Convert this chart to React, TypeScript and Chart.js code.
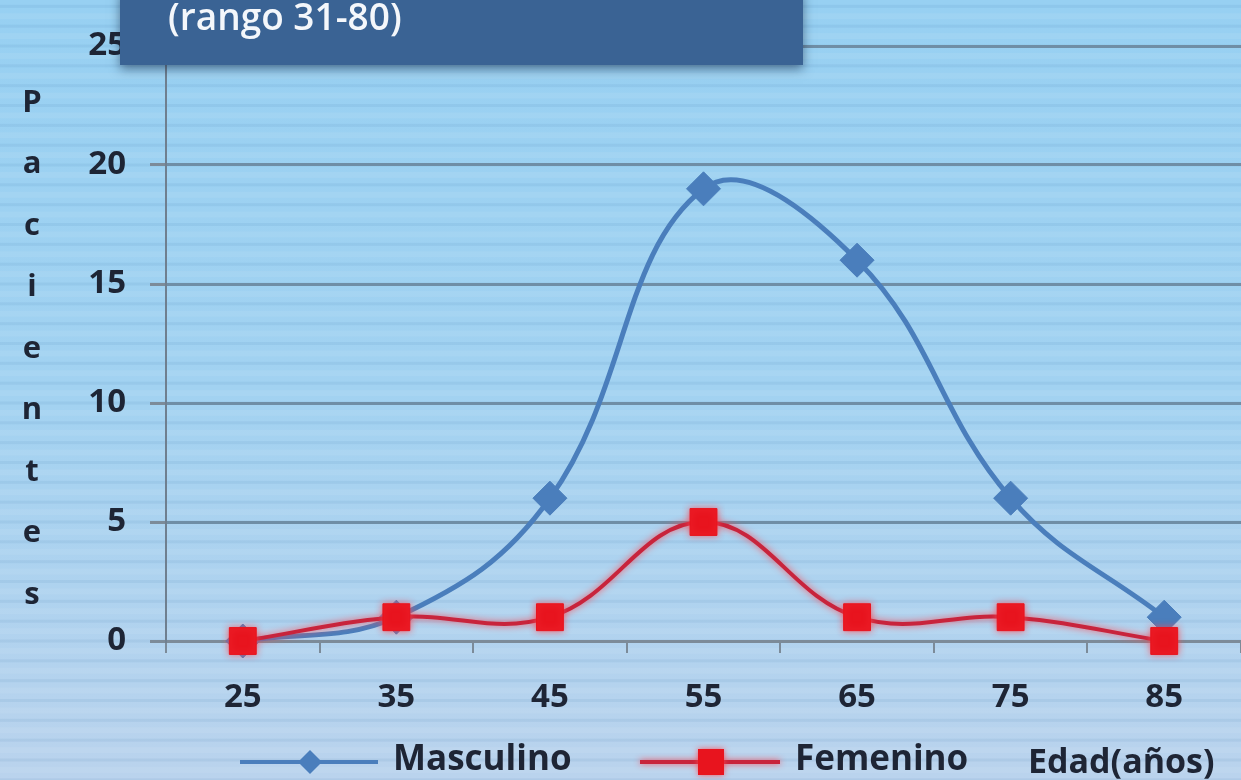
import { useEffect, useRef } from 'react';
import { Chart, registerables } from 'chart.js';

Chart.register(...registerables);

const categories = ['25', '35', '45', '55', '65', '75', '85'];
const masculino = [0, 1, 6, 19, 16, 6, 1];
const femenino = [0, 1, 1, 5, 1, 1, 0];
const yTickValues = [0, 5, 10, 15, 20, 25];
const seriesNames = ['Masculino', 'Femenino'];
const boxText = '(rango 31-80)';
const yTitleLetters = ['P', 'a', 'c', 'i', 'e', 'n', 't', 'e', 's'];
const xTitle = 'Edad(años)';

const BLUE = '#4a7ebc';
const RED_LINE = '#c8243c';
const RED_MARK = '#e8141e';
const TEXT = '#1e2535';
const FONT = '"Open Sans", "DejaVu Sans", sans-serif';

function drawDiamond(ctx: CanvasRenderingContext2D, x: number, y: number, r: number, color: string) {
  ctx.beginPath();
  ctx.moveTo(x, y - r);
  ctx.lineTo(x + r, y);
  ctx.lineTo(x, y + r);
  ctx.lineTo(x - r, y);
  ctx.closePath();
  ctx.fillStyle = color;
  ctx.fill();
}

const decorPlugin = {
  id: 'decor',
  beforeDraw(chart: any) {
    const ctx = chart.ctx as CanvasRenderingContext2D;
    const w = chart.width;
    const h = chart.height;
    ctx.save();
    const g = ctx.createLinearGradient(0, 0, 0, h);
    g.addColorStop(0, '#97d0f2');
    g.addColorStop(0.5, '#a2d2f1');
    g.addColorStop(1, '#bad3ed');
    ctx.fillStyle = g;
    ctx.fillRect(0, 0, w, h);
    const ys = chart.scales.y;
    const p0 = ys.getPixelForValue(0);
    const step = (p0 - ys.getPixelForValue(5)) / 6;
    for (let k = -10; k < 60; k++) {
      const y = p0 - k * step;
      if (y < -5 || y > h + 5) continue;
      ctx.fillStyle = 'rgba(60,115,165,0.09)';
      ctx.fillRect(0, y - 1.5, w, 3);
      ctx.fillStyle = 'rgba(255,255,255,0.07)';
      ctx.fillRect(0, y + step / 2 - 3, w, 6);
    }
    ctx.restore();
  },
  beforeDatasetDraw(chart: any, args: any) {
    if (args.index === 1) {
      const ctx = chart.ctx as CanvasRenderingContext2D;
      ctx.save();
      ctx.shadowColor = 'rgba(255,70,80,0.9)';
      ctx.shadowBlur = 7;
    }
  },
  afterDatasetDraw(chart: any, args: any) {
    if (args.index === 1) {
      chart.ctx.restore();
    }
  },
  afterDraw(chart: any) {
    const ctx = chart.ctx as CanvasRenderingContext2D;
    ctx.save();
    // title box
    ctx.shadowColor = 'rgba(20,40,70,0.55)';
    ctx.shadowBlur = 10;
    ctx.shadowOffsetY = 4;
    ctx.fillStyle = '#3a6394';
    ctx.fillRect(120, -10, 683, 75);
    ctx.shadowColor = 'transparent';
    ctx.shadowBlur = 0;
    ctx.shadowOffsetY = 0;
    ctx.fillStyle = '#f4f7fb';
    ctx.font = `600 37px ${FONT}`;
    ctx.textAlign = 'left';
    ctx.textBaseline = 'middle';
    ctx.fillText(boxText, 168, 19);

    // vertical y title
    ctx.fillStyle = TEXT;
    ctx.font = `bold 31px ${FONT}`;
    ctx.textAlign = 'center';
    ctx.textBaseline = 'middle';
    yTitleLetters.forEach((ch, i) => {
      ctx.fillText(ch, 32, 103 + i * 61.5);
    });

    // legend
    const ly = 762;
    ctx.lineWidth = 4;
    ctx.strokeStyle = BLUE;
    ctx.beginPath();
    ctx.moveTo(240, ly);
    ctx.lineTo(378, ly);
    ctx.stroke();
    drawDiamond(ctx, 310, ly, 12, BLUE);

    ctx.shadowColor = 'rgba(255,70,80,0.9)';
    ctx.shadowBlur = 6;
    ctx.strokeStyle = RED_LINE;
    ctx.beginPath();
    ctx.moveTo(640, ly);
    ctx.lineTo(780, ly);
    ctx.stroke();
    ctx.fillStyle = RED_MARK;
    ctx.fillRect(698, ly - 13, 26, 26);
    ctx.shadowColor = 'transparent';
    ctx.shadowBlur = 0;

    ctx.fillStyle = TEXT;
    ctx.font = `bold 35px ${FONT}`;
    ctx.textAlign = 'left';
    ctx.textBaseline = 'middle';
    ctx.fillText(seriesNames[0], 393, 760);
    ctx.fillText(seriesNames[1], 795, 760);
    ctx.font = `bold 34px ${FONT}`;
    ctx.fillText(xTitle, 1028, 763);
    ctx.restore();
  },
};

export default function App() {
  const ref = useRef<HTMLCanvasElement>(null);
  useEffect(() => {
    if (!ref.current) return;
    const chart = new Chart(ref.current, {
      type: 'line',
      data: {
        labels: categories,
        datasets: [
          {
            label: seriesNames[0],
            data: masculino,
            borderColor: BLUE,
            backgroundColor: BLUE,
            borderWidth: 5,
            tension: 0.4,
            pointStyle: 'rectRot',
            pointRadius: 17,
            pointBackgroundColor: BLUE,
            pointBorderColor: BLUE,
            pointBorderWidth: 1,
            order: 1,
            clip: false,
          },
          {
            label: seriesNames[1],
            data: femenino,
            borderColor: RED_LINE,
            backgroundColor: RED_MARK,
            borderWidth: 4,
            tension: 0.4,
            pointStyle: 'rect',
            pointRadius: 19,
            pointBackgroundColor: RED_MARK,
            pointBorderColor: RED_MARK,
            pointBorderWidth: 1,
            order: 0,
            clip: false,
          },
        ],
      },
      options: {
        animation: false,
        responsive: true,
        maintainAspectRatio: false,
        layout: { autoPadding: false, padding: { top: 46, left: 0, right: 0, bottom: 0 } },
        plugins: {
          legend: { display: false },
          tooltip: { enabled: false },
          title: { display: false },
        },
        scales: {
          x: {
            type: 'category',
            offset: true,
            afterFit: (s: any) => {
              s.height = 139;
              s.paddingLeft = 0;
              s.paddingRight = 0;
            },
            grid: {
              display: true,
              drawOnChartArea: false,
              drawTicks: true,
              tickLength: 12,
              offset: true,
              color: '#7c8b99',
              lineWidth: 2,
            },
            border: { color: '#7c8b99', width: 3 },
            ticks: {
              color: TEXT,
              font: { family: FONT, size: 33, weight: 'bold' },
              padding: 25,
              maxRotation: 0,
            },
          },
          y: {
            min: 0,
            max: 25,
            afterFit: (s: any) => {
              s.width = 166;
            },
            afterBuildTicks: (s: any) => {
              s.ticks = yTickValues.map((v) => ({ value: v }));
            },
            grid: {
              color: '#6f8ea6',
              lineWidth: 3,
              drawTicks: true,
              tickLength: 16,
              tickColor: '#7c8b99',
            },
            border: { color: '#6f7f8f', width: 2 },
            ticks: {
              color: TEXT,
              font: { family: FONT, size: 33, weight: 'bold' },
              padding: 24,
            },
          },
        },
      },
      plugins: [decorPlugin],
    });
    return () => chart.destroy();
  }, []);
  return (
    <div style={{ position: 'fixed', left: 0, top: 0, width: 1241, height: 780 }}>
      <canvas ref={ref} />
    </div>
  );
}
